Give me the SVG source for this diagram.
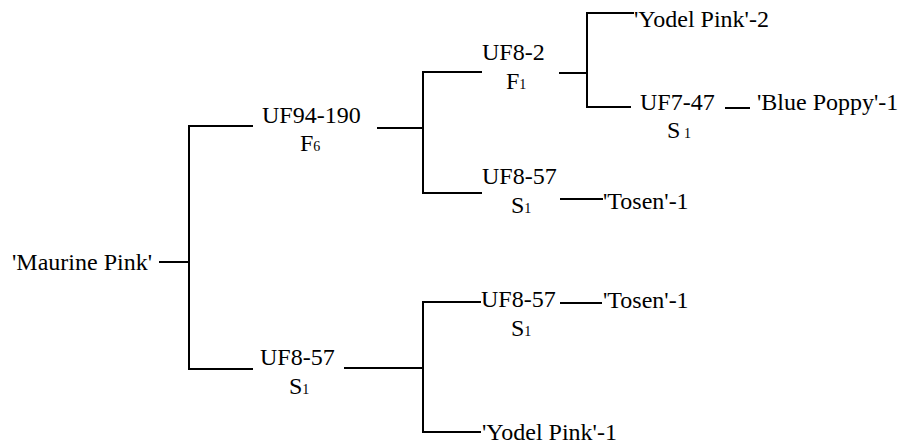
<svg xmlns="http://www.w3.org/2000/svg" width="911" height="448" viewBox="0 0 911 448">
<style>
text{font-family:"Liberation Serif","Times New Roman","DejaVu Serif",serif;font-size:24px;fill:#000}
.sub{font-size:14px}
.c{fill:none;stroke:#000;stroke-width:2}
</style>
<rect width="911" height="448" fill="#fff"/>
<g id="connectors" class="c">
<path d="M159,262H189"/>
<path d="M253,126H189V369H253"/>
<path d="M377,128H423"/>
<path d="M482,72H423V193H482"/>
<path d="M559,73H587"/>
<path d="M634,13H587V107H631"/>
<path d="M725,108H750"/>
<path d="M560,199H603"/>
<path d="M344,368H423"/>
<path d="M481,302H423V432H481"/>
<path d="M560,303H602"/>
</g>
<g id="maurine"><text x="12" y="270">'Maurine Pink'</text></g>
<g id="uf94-190"><text x="262" y="123">UF94-190</text><text x="300" y="151">F<tspan class="sub">6</tspan></text></g>
<g id="uf8-57-a"><text x="260" y="365">UF8-57</text><text x="289" y="394">S<tspan class="sub">1</tspan></text></g>
<g id="uf8-2"><text x="482" y="60">UF8-2</text><text x="506" y="89">F<tspan class="sub">1</tspan></text></g>
<g id="uf8-57-b"><text x="482" y="184">UF8-57</text><text x="511" y="213">S<tspan class="sub">1</tspan></text></g>
<g id="tosen-b"><text x="603" y="209">'Tosen'-1</text></g>
<g id="yodel-2"><text x="634" y="27">'Yodel Pink'-2</text></g>
<g id="uf7-47"><text x="640" y="110">UF7-47</text><text x="667" y="138">S</text><text class="sub" x="684" y="138">1</text></g>
<g id="blue-poppy"><text x="757" y="110">'Blue Poppy'-1</text></g>
<g id="uf8-57-c"><text x="481" y="307">UF8-57</text><text x="511" y="336">S<tspan class="sub">1</tspan></text></g>
<g id="tosen-c"><text x="603" y="308">'Tosen'-1</text></g>
<g id="yodel-1"><text x="482" y="440">'Yodel Pink'-1</text></g>
</svg>
